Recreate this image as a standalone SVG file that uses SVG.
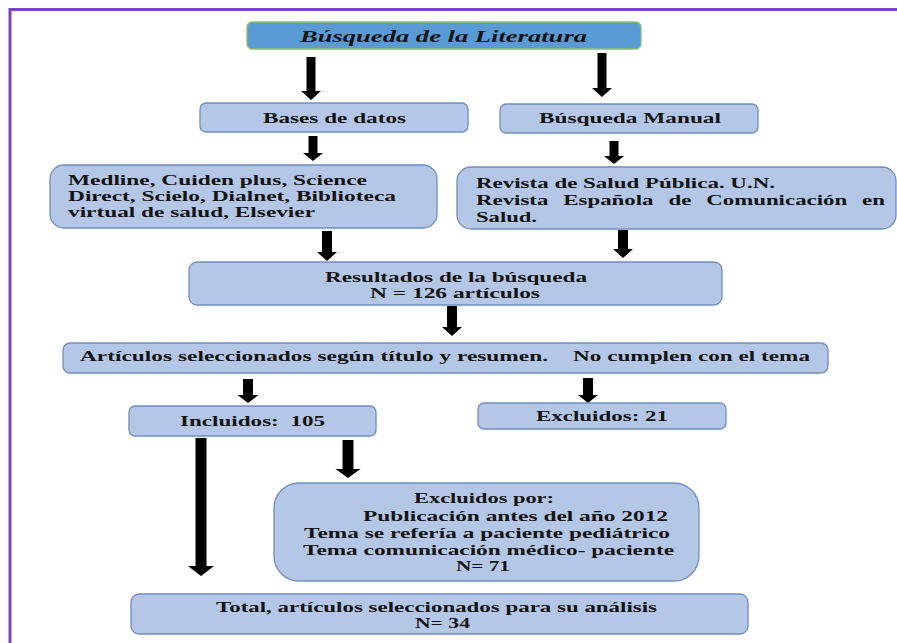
<svg xmlns="http://www.w3.org/2000/svg" width="897" height="643" viewBox="0 0 897 643">
<style>
.box{fill:#b4c7e7;stroke:#6f8fbd;stroke-width:1.3}
.title{fill:#5b9bd5;stroke:#8fbf6a;stroke-width:1.3}
.t{font-family:"Liberation Serif","Times New Roman",serif;font-weight:bold;font-size:15px;fill:#141414}
.ti{font-family:"Liberation Serif","Times New Roman",serif;font-weight:bold;font-style:italic;font-size:17px;fill:#141414}
.arr{fill:#000}
.frame{stroke:#7f44c4;stroke-width:3;fill:none}
</style>
<rect width="897" height="643" fill="#fff"/>
<path class="frame" d="M10,643 V9.5 H897"/>

<g id="connectors">
<path class="arr" d="M306.5,57 H315.5 V91 H321 L311,100 L301,91 H306.5 Z"/>
<path class="arr" d="M597.5,53 H606.5 V88 H612 L602,97 L592,88 H597.5 Z"/>
<path class="arr" d="M308.5,136 H317.5 V153 H323 L313,161 L303,153 H308.5 Z"/>
<path class="arr" d="M609.5,141 H618.5 V156 H624 L614,164 L604,156 H609.5 Z"/>
<path class="arr" d="M322,231 H332 V252 H337 L327,261 L317,252 H322 Z"/>
<path class="arr" d="M618,230 H628 V249 H633 L623,258 L613,249 H618 Z"/>
<path class="arr" d="M447,306 H457 V327 H462 L452,336 L442,327 H447 Z"/>
<path class="arr" d="M243,379 H253 V395 H258.5 L248,403 L237.5,395 H243 Z"/>
<path class="arr" d="M583,378 H593 V395 H598 L588,403 L578,395 H583 Z"/>
<path class="arr" d="M195.5,438 H206.5 V566 H214 L201,576 L188,566 H195.5 Z"/>
<path class="arr" d="M342.5,440 H353.5 V469 H360.5 L348,478 L335.5,469 H342.5 Z"/>
</g>

<g id="n-titulo">
<rect class="title" x="247" y="22" width="394" height="27" rx="5"/>
<text class="ti" x="300" y="42" textLength="287" lengthAdjust="spacingAndGlyphs">Búsqueda de la Literatura</text>
</g>

<g id="n-bases">
<rect class="box" x="200" y="103" width="268" height="29" rx="6"/>
<text class="t" x="263" y="123" textLength="143" lengthAdjust="spacingAndGlyphs">Bases de datos</text>
</g>

<g id="n-manual">
<rect class="box" x="500" y="104" width="258" height="29" rx="6"/>
<text class="t" x="539" y="123" textLength="182" lengthAdjust="spacingAndGlyphs">Búsqueda Manual</text>
</g>

<g id="n-medline">
<rect class="box" x="50" y="165" width="387" height="63" rx="14"/>
<text class="t" x="68" y="185" textLength="299" lengthAdjust="spacingAndGlyphs">Medline, Cuiden plus, Science</text>
<text class="t" x="68" y="201" textLength="328" lengthAdjust="spacingAndGlyphs">Direct, Scielo, Dialnet, Biblioteca</text>
<text class="t" x="68" y="217" textLength="247" lengthAdjust="spacingAndGlyphs">virtual de salud, Elsevier</text>
</g>

<g id="n-revista">
<rect class="box" x="457" y="167" width="439" height="62" rx="14"/>
<text class="t" x="476" y="188" textLength="299" lengthAdjust="spacingAndGlyphs">Revista de Salud Pública. U.N.</text>
<text class="t" x="476" y="205" textLength="409" lengthAdjust="spacingAndGlyphs" style="word-spacing:6px">Revista Española de Comunicación en</text>
<text class="t" x="476" y="222" textLength="61" lengthAdjust="spacingAndGlyphs">Salud.</text>
</g>

<g id="n-resultados">
<rect class="box" x="189" y="262" width="533" height="43" rx="8"/>
<text class="t" x="325" y="282" textLength="262" lengthAdjust="spacingAndGlyphs">Resultados de la búsqueda</text>
<text class="t" x="370" y="298" textLength="170" lengthAdjust="spacingAndGlyphs">N = 126 artículos</text>
</g>

<g id="n-seleccion">
<rect class="box" x="63" y="343" width="765" height="30" rx="7"/>
<text class="t" x="80" y="361" textLength="468" lengthAdjust="spacingAndGlyphs">Artículos seleccionados según título y resumen.</text>
<text class="t" x="573" y="361" textLength="237" lengthAdjust="spacingAndGlyphs">No cumplen con el tema</text>
</g>

<g id="n-incluidos">
<rect class="box" x="129" y="406" width="247" height="30" rx="6"/>
<text class="t" x="180" y="426" textLength="145" lengthAdjust="spacingAndGlyphs" xml:space="preserve">Incluidos:  105</text>
</g>

<g id="n-excluidos21">
<rect class="box" x="478" y="403" width="248" height="26" rx="6"/>
<text class="t" x="536" y="421" textLength="132" lengthAdjust="spacingAndGlyphs">Excluidos: 21</text>
</g>

<g id="n-excluidos-por">
<rect class="box" x="274" y="483" width="425" height="98" rx="25"/>
<text class="t" x="414" y="503" textLength="140" lengthAdjust="spacingAndGlyphs">Excluidos por:</text>
<text class="t" x="363" y="521" textLength="305" lengthAdjust="spacingAndGlyphs">Publicación antes del año 2012</text>
<text class="t" x="304" y="538" textLength="366" lengthAdjust="spacingAndGlyphs">Tema se refería a paciente pediátrico</text>
<text class="t" x="303" y="555" textLength="371" lengthAdjust="spacingAndGlyphs">Tema comunicación médico- paciente</text>
<text class="t" x="456" y="571" textLength="54" lengthAdjust="spacingAndGlyphs">N= 71</text>
</g>

<g id="n-total">
<rect class="box" x="131" y="594" width="617" height="40" rx="8"/>
<text class="t" x="216" y="612" textLength="441" lengthAdjust="spacingAndGlyphs">Total, artículos seleccionados para su análisis</text>
<text class="t" x="415" y="628" textLength="55" lengthAdjust="spacingAndGlyphs">N= 34</text>
</g>
</svg>
